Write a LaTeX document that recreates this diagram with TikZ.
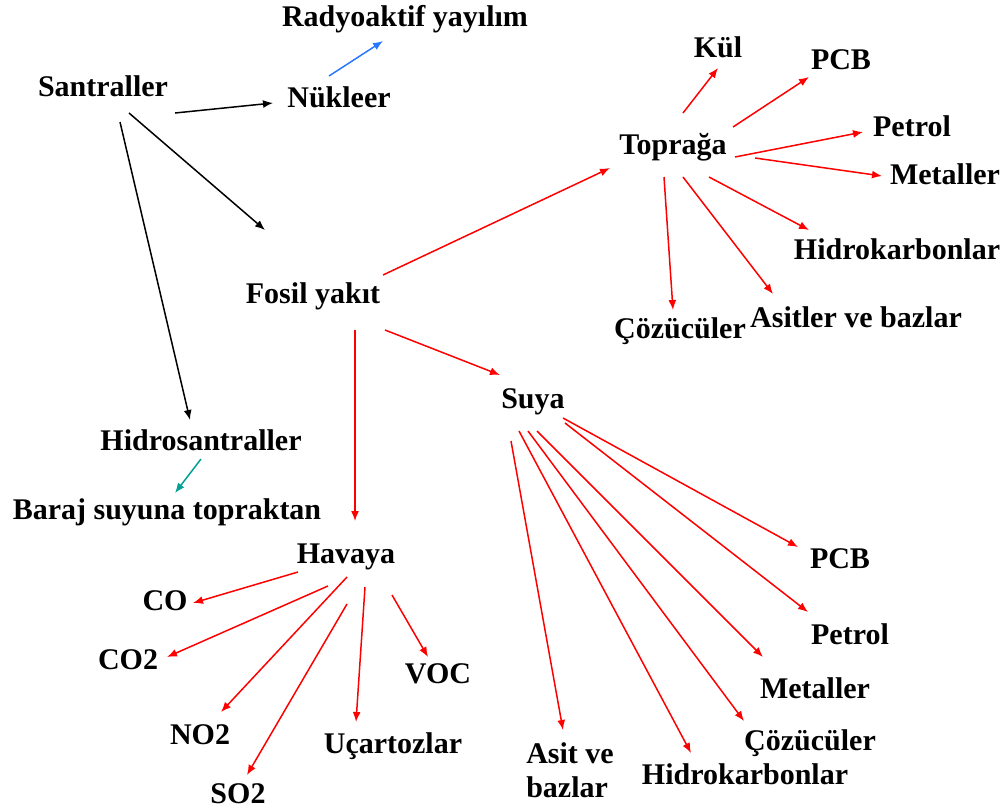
\documentclass[tikz,border=0pt]{standalone}
\usepackage{fontspec}
\setmainfont{Liberation Serif}
\usetikzlibrary{arrows.meta}
\definecolor{arrred}{RGB}{255,0,0}
\definecolor{arrblue}{RGB}{40,120,255}
\definecolor{arrteal}{RGB}{0,160,150}
\tikzset{
  lbl/.style={inner sep=0pt, font=\fontsize{30}{34}\selectfont\bfseries},
  conn/.style={line width=1.5pt, -{Latex[length=10pt,width=8pt]}},
  blk/.style={conn, black},
  redc/.style={conn, arrred},
  bluec/.style={conn, arrblue},
  tealc/.style={conn, arrteal},
}
\newcommand{\at}[3]{([shift={(#2,#3)}]#1.center)}
\begin{document}
\begin{tikzpicture}[x=1pt, y=-1pt]
\useasboundingbox (0,0) rectangle (1005,812);

% power plants and their branches
\node[lbl] (san)   at (103,86)  {Santraller};
\node[lbl] (nuk)   at (339,97)  {Nükleer};
\node[lbl] (rad)   at (405,19)  {Radyoaktif yayılım};
\node[lbl] (fos)   at (313,296) {Fosil yakıt};
\node[lbl] (hidro) at (201,440) {Hidrosantraller};
\node[lbl] (baraj) at (167,512) {Baraj suyuna topraktan};

% soil
\node[lbl] (top)  at (673,147) {Toprağa};
\node[lbl] (kul)  at (718,47)  {Kül};
\node[lbl] (pcba) at (841,60)  {PCB};
\node[lbl] (peta) at (912,126) {Petrol};
\node[lbl] (meta) at (945,174) {Metaller};
\node[lbl] (hida) at (897,249) {Hidrokarbonlar};
\node[lbl] (asia) at (856,317) {Asitler ve bazlar};
\node[lbl] (coza) at (680,331) {Çözücüler};

% water
\node[lbl] (suya) at (533,402) {Suya};
\node[lbl] (pcbb) at (840,559) {PCB};
\node[lbl] (petb) at (850,634) {Petrol};
\node[lbl] (metb) at (815,688) {Metaller};
\node[lbl] (cozb) at (810,743) {Çözücüler};
\node[lbl] (hidb) at (745,774) {Hidrokarbonlar};
\node[lbl, align=left] (asib) at (570,770) {Asit ve\\bazlar};

% air
\node[lbl] (hav)  at (346,557) {Havaya};
\node[lbl] (co)   at (165,601) {CO};
\node[lbl] (coi)  at (128,660) {CO2};
\node[lbl] (no)   at (200,735) {NO2};
\node[lbl] (so)   at (238,794) {SO2};
\node[lbl] (ucar) at (393,746) {Uçartozlar};
\node[lbl] (voc)  at (438,674) {VOC};

% black connectors
\draw[blk] \at{san}{72}{27}  -- \at{nuk}{-66}{6};
\draw[blk] \at{san}{26}{27}  -- \at{fos}{-48}{-66};
\draw[blk] \at{san}{17}{36}  -- \at{hidro}{-11}{-20};
\draw[bluec] \at{nuk}{-10}{-21} -- \at{rad}{-22}{22};
\draw[tealc] \at{hidro}{0}{19} -- \at{baraj}{8}{-19};

% fossil fuel
\draw[redc] \at{fos}{70}{-21} -- \at{top}{-63}{21};
\draw[redc] \at{fos}{42}{34}  -- \at{hav}{9}{-36};
\draw[redc] \at{fos}{72}{34}  -- \at{suya}{-33}{-27};

% soil fan
\draw[redc] \at{top}{10}{-34} -- \at{kul}{0}{21};
\draw[redc] \at{top}{60}{-20} -- \at{pcba}{-32}{17};
\draw[redc] \at{top}{62}{10}  -- \at{peta}{-49}{6};
\draw[redc] \at{top}{82}{11}  -- \at{meta}{-63}{2};
\draw[redc] \at{top}{36}{30}  -- \at{hida}{-88}{-19};
\draw[redc] \at{top}{10}{30}  -- \at{asia}{-83}{-23};
\draw[redc] \at{top}{-9}{30}  -- \at{coza}{-7}{-21};

% air fan
\draw[redc] \at{hav}{-48}{15} -- \at{co}{28}{2};
\draw[redc] \at{hav}{-18}{29} -- \at{coi}{39}{-3};
\draw[redc] \at{hav}{1}{20}   -- \at{no}{21}{-23};
\draw[redc] \at{hav}{1}{47}   -- \at{so}{9}{-19};
\draw[redc] \at{hav}{19}{30}  -- \at{ucar}{-37}{-24};
\draw[redc] \at{hav}{46}{38}  -- \at{voc}{-10}{-17};

% water fan
\draw[redc] \at{suya}{30}{16}  -- \at{pcbb}{-42}{-12};
\draw[redc] \at{suya}{32}{21}  -- \at{petb}{-42}{-22};
\draw[redc] \at{suya}{4}{29}   -- \at{metb}{-52}{-31};
\draw[redc] \at{suya}{-5}{29}  -- \at{cozb}{-66}{-22};
\draw[redc] \at{suya}{-14}{29} -- \at{hidb}{-54}{-21};
\draw[redc] \at{suya}{-22}{39} -- \at{asib}{-7}{-40};
\end{tikzpicture}
\end{document}
